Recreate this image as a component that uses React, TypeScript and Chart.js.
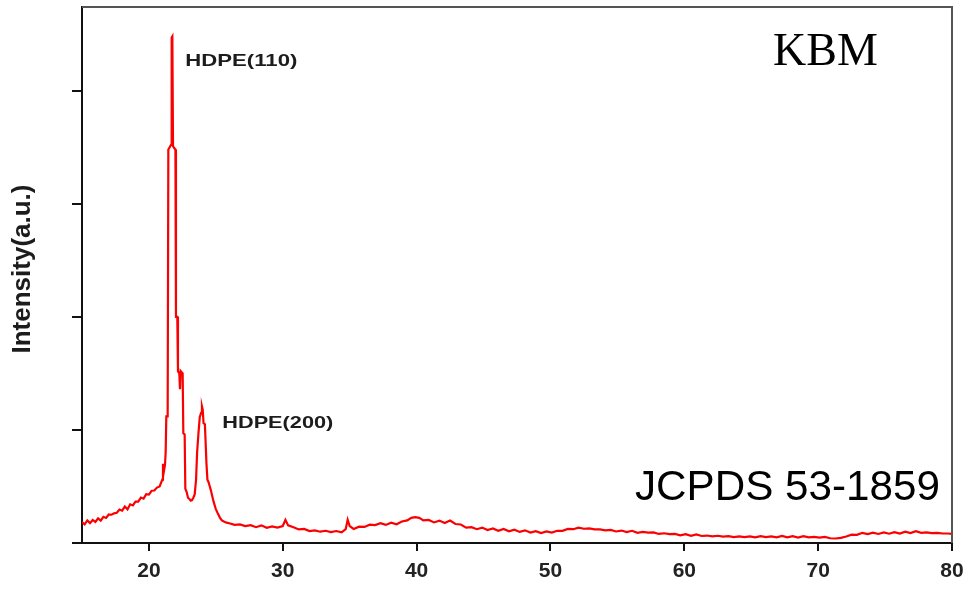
import { useEffect, useRef } from "react";
import { Chart, registerables } from "chart.js";

Chart.register(...registerables);

// Diffraction angle (2θ, degrees)
const twoTheta = [
  15.0, 15.2, 15.4, 15.6, 15.8, 16.0, 16.2, 16.4, 16.6, 16.8,
  17.0, 17.2, 17.4, 17.6, 17.8, 18.0, 18.2, 18.4, 18.6, 18.8,
  19.0, 19.2, 19.4, 19.6, 19.8, 20.0, 20.2, 20.4, 20.6, 20.8,
  21.0, 21.05, 21.1, 21.2, 21.25, 21.3, 21.4, 21.45, 21.55, 21.65,
  21.7, 21.75, 21.8, 21.9, 21.98, 22.02, 22.12, 22.17, 22.27, 22.32,
  22.37, 22.52, 22.57, 22.67, 22.72, 22.82, 22.92, 23.02, 23.12, 23.22,
  23.32, 23.42, 23.52, 23.6, 23.7, 23.8, 23.9, 23.96, 24.02, 24.08,
  24.18, 24.25, 24.3, 24.37, 24.45, 24.55, 24.62, 24.72, 24.82, 24.92,
  25.0, 25.15, 25.3, 25.45, 25.6, 25.8,
  26.0, 26.4, 26.8, 27.2, 27.6, 28.0, 28.4, 28.8, 29.2, 29.6,
  30.0, 30.2, 30.4, 30.8, 31.2, 31.6, 32.0, 32.4, 32.8, 33.2,
  33.6, 34.0, 34.4, 34.7, 34.85, 35.0, 35.3, 35.7, 36.1, 36.5,
  36.9, 37.3, 37.7, 38.1, 38.5, 38.9, 39.3, 39.6, 39.9, 40.2,
  40.5, 40.9, 41.3, 41.7, 42.1, 42.5, 42.9, 43.3, 43.7, 44.1,
  44.5, 44.9, 45.3, 45.7, 46.1, 46.5, 46.9, 47.3, 47.7, 48.1,
  48.5, 48.9, 49.3, 49.7, 50.1, 50.5, 50.9, 51.3, 51.7, 52.1,
  52.5, 52.9, 53.3, 53.7, 54.1, 54.5, 54.9, 55.3, 55.7, 56.1,
  56.5, 56.9, 57.3, 57.7, 58.1, 58.5, 58.9, 59.3, 59.7, 60.1,
  60.5, 60.9, 61.3, 61.7, 62.1, 62.5, 62.9, 63.3, 63.7, 64.1,
  64.5, 64.9, 65.3, 65.7, 66.1, 66.5, 66.9, 67.3, 67.7, 68.1,
  68.5, 68.9, 69.3, 69.7, 70.1, 70.5, 70.9, 71.3, 71.7, 72.1,
  72.5, 72.9, 73.3, 73.7, 74.1, 74.5, 74.9, 75.3, 75.7, 76.1,
  76.5, 76.9, 77.3, 77.7, 78.1, 78.5, 78.9, 79.3, 79.7, 80.0,
];

// Intensity (a.u.)
const intensity = [
  186, 165, 200, 176, 204, 186, 218, 198, 232, 222,
  252, 250, 262, 268, 296, 286, 322, 298, 342, 332,
  366, 366, 402, 392, 432, 428, 462, 464, 490, 500,
  560, 700, 620, 690, 800, 1120, 1120, 3480, 3500, 3520,
  4470, 4480, 3510, 3490, 3480, 2000, 2000, 1520, 1500, 1360,
  1520, 1500, 970, 960, 480, 450, 400, 390, 375, 380,
  400, 430, 557, 800, 970, 1115, 1150, 1210, 1180, 1060,
  1050, 850, 700, 560, 540, 500, 470, 420, 370, 330,
  300, 260, 225, 200, 190, 180,
  175, 160, 165, 150, 158, 140, 156, 134, 146, 136,
  150, 205, 156, 140, 120, 124, 106, 112, 100, 108,
  96, 106, 94, 122, 205, 150, 124, 144, 142, 162,
  158, 176, 160, 180, 166, 190, 200, 222, 228, 222,
  200, 204, 182, 198, 176, 198, 168, 164, 136, 140,
  122, 136, 114, 128, 108, 124, 104, 118, 98, 112,
  92, 104, 88, 102, 92, 108, 108, 124, 122, 136,
  126, 130, 120, 120, 112, 116, 102, 110, 96, 108,
  90, 98, 92, 94, 80, 86, 78, 80, 68, 78,
  64, 76, 62, 66, 58, 64, 56, 60, 52, 58,
  52, 58, 50, 60, 52, 58, 50, 62, 50, 60,
  48, 60, 50, 54, 48, 54, 42, 40, 46, 58,
  74, 72, 90, 78, 92, 80, 94, 82, 96, 84,
  100, 88, 104, 90, 94, 88, 90, 84, 84, 80,
];

const xTickValues = [20, 30, 40, 50, 60, 70, 80];
const yTickValues = [0, 1000, 2000, 3000, 4000];
const peakLabels = ["HDPE(110)", "HDPE(200)"];
const peakLabelAnchors = [
  [22.72, 4257],
  [25.48, 1062],
];
const sampleName = "KBM";
const cardReference = "JCPDS 53-1859";
const yAxisTitle = "Intensity(a.u.)";

const SANS = "'Liberation Sans', Arial, sans-serif";
const SERIF = "'Liberation Serif', 'Times New Roman', serif";

function drawWide(
  ctx: CanvasRenderingContext2D,
  text: string,
  x: number,
  y: number,
  font: string,
  width: number,
  color: string,
  baseline: CanvasTextBaseline
) {
  ctx.save();
  ctx.font = font;
  const w = ctx.measureText(text).width;
  ctx.translate(x, y);
  ctx.scale(width / w, 1);
  ctx.fillStyle = color;
  ctx.textAlign = "left";
  ctx.textBaseline = baseline;
  ctx.fillText(text, 0, 0);
  ctx.restore();
}

const annotations = {
  id: "xrdAnnotations",
  afterDraw(chart: any) {
    const { ctx, chartArea, scales } = chart;
    const xs = scales.x;
    const ys = scales.y;
    ctx.save();

    // frame: top and right edges
    ctx.strokeStyle = "#555";
    ctx.lineWidth = 2;
    ctx.beginPath();
    ctx.moveTo(chartArea.left, chartArea.top);
    ctx.lineTo(chartArea.right, chartArea.top);
    ctx.lineTo(chartArea.right, chartArea.bottom);
    ctx.stroke();

    // peak assignments
    const widths = [112, 111];
    peakLabels.forEach((label, i) => {
      const [px, py] = peakLabelAnchors[i];
      drawWide(
        ctx,
        label,
        xs.getPixelForValue(px),
        ys.getPixelForValue(py),
        `bold 17px ${SANS}`,
        widths[i],
        "#1c1c1c",
        "middle"
      );
    });

    // sample name and reference card
    ctx.fillStyle = "#000";
    ctx.textAlign = "left";
    ctx.textBaseline = "alphabetic";
    ctx.font = `46px ${SERIF}`;
    ctx.fillText(sampleName, 773, 65);
    drawWide(ctx, cardReference, 635, 500, `42px ${SANS}`, 305, "#000", "alphabetic");

    // y-axis title
    ctx.save();
    ctx.translate(23, 269);
    ctx.rotate(-Math.PI / 2);
    ctx.font = `bold 26px ${SANS}`;
    ctx.fillStyle = "#1c1c1c";
    ctx.textAlign = "center";
    ctx.textBaseline = "middle";
    ctx.fillText(yAxisTitle, 0, 0);
    ctx.restore();

    ctx.restore();
  },
};

export default function App() {
  const canvasRef = useRef<HTMLCanvasElement | null>(null);

  useEffect(() => {
    const canvas = canvasRef.current;
    if (!canvas) return;
    const chart = new Chart(canvas, {
      type: "line",
      data: {
        datasets: [
          {
            data: twoTheta.map((t, i) => ({ x: t, y: intensity[i] })),
            borderColor: "rgb(250, 0, 0)",
            borderWidth: 2.2,
            pointRadius: 0,
            tension: 0,
            fill: false,
          },
        ],
      },
      options: {
        animation: false,
        responsive: true,
        maintainAspectRatio: false,
        layout: { padding: { top: 7, right: 21, left: 0, bottom: 0 } },
        plugins: {
          legend: { display: false },
          tooltip: { enabled: false },
        },
        scales: {
          x: {
            type: "linear",
            min: 15,
            max: 80,
            afterBuildTicks: (scale: any) => {
              scale.ticks = xTickValues.map((v) => ({ value: v }));
            },
            afterFit: (scale: any) => {
              scale.height = 48;
            },
            border: { color: "#111", width: 2 },
            grid: {
              drawOnChartArea: false,
              drawTicks: true,
              tickLength: 8,
              color: "#111",
              lineWidth: 2,
            },
            ticks: {
              font: { family: SANS, size: 21, weight: "bold" },
              color: "#222",
              padding: 8,
              maxRotation: 0,
            },
          },
          y: {
            type: "linear",
            min: 0,
            max: 4740,
            afterBuildTicks: (scale: any) => {
              scale.ticks = yTickValues.map((v) => ({ value: v }));
            },
            afterFit: (scale: any) => {
              scale.width = 82;
            },
            border: { color: "#111", width: 2 },
            grid: {
              drawOnChartArea: false,
              drawTicks: true,
              tickLength: 10,
              color: "#111",
              lineWidth: 2,
            },
            ticks: { display: false },
          },
        },
      },
      plugins: [annotations],
    });
    return () => chart.destroy();
  }, []);

  return (
    <div
      style={{
        position: "fixed",
        left: 0,
        top: 0,
        width: 973,
        height: 591,
        background: "#fff",
      }}
    >
      <canvas ref={canvasRef} />
    </div>
  );
}
